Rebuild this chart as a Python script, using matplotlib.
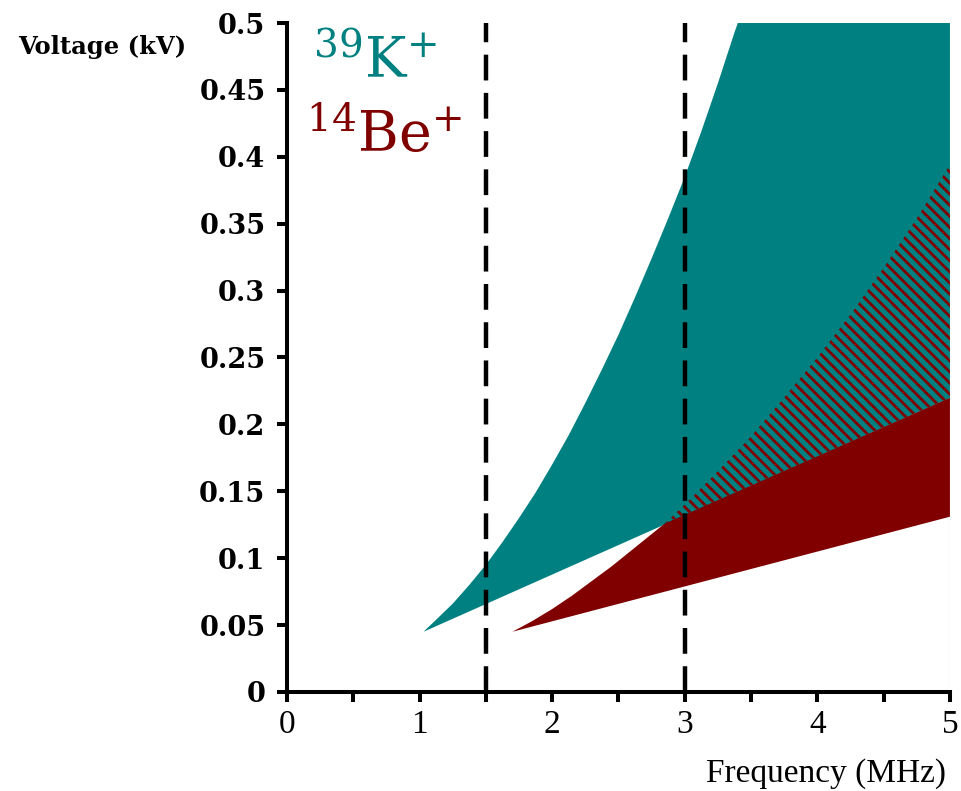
import numpy as np
import matplotlib
matplotlib.use("Agg")
import matplotlib.pyplot as plt

# stability regions (frequency in MHz, voltage in kV)
k_upper_freq = [1.03, 1.125, 1.25, 1.375, 1.5, 1.625, 1.75, 1.875, 2.0, 2.125, 2.25,
                2.375, 2.5, 2.625, 2.75, 2.875, 3.0, 3.125, 3.25, 3.375, 3.40]
k_upper_volt = [0.045, 0.054, 0.066, 0.080, 0.095, 0.112, 0.130, 0.149, 0.170, 0.192,
                0.216, 0.241, 0.267, 0.295, 0.324, 0.354, 0.385, 0.419, 0.455, 0.493, 0.500]
k_lower_freq = [1.03, 5.0]
k_lower_volt = [0.045, 0.220]

be_upper_freq = [1.7, 1.85, 2.0, 2.15, 2.3, 2.45, 2.6, 2.75, 2.85, 3.0, 3.25, 3.5,
                 3.75, 4.0, 4.25, 4.5, 4.75, 5.0]
be_upper_volt = [0.045, 0.053, 0.062, 0.072, 0.083, 0.094, 0.106, 0.118, 0.126, 0.140,
                 0.165, 0.191, 0.220, 0.250, 0.282, 0.317, 0.354, 0.394]
be_lower_freq = [1.7, 5.0]
be_lower_volt = [0.045, 0.131]
cross_idx = 8  # where the Be upper edge meets the K lower edge

trap_freqs = [1.5, 3.0]

xlim = (0, 5)
ylim = (0, 0.5)
x_ticks = [0, 1, 2, 3, 4, 5]
x_minor = [0.5, 1.5, 2.5, 3.5, 4.5]
y_ticks = [0, 0.05, 0.1, 0.15, 0.2, 0.25, 0.3, 0.35, 0.4, 0.45, 0.5]
y_labels = ["0", "0.05", "0.1", "0.15", "0.2", "0.25", "0.3", "0.35", "0.4", "0.45", "0.5"]

TEAL = "#008080"
MAROON = "#800000"

plt.rcParams["hatch.linewidth"] = 2.0
plt.rcParams["mathtext.fontset"] = "dejavuserif"

fig = plt.figure(figsize=(9.62, 7.91), dpi=100)
ax = fig.add_axes([0.2983, 0.1252, 0.6892, 0.8457])

# K+ region: upper curve, across the top, down the right edge, back along lower line
kx = k_upper_freq + [xlim[1]] + k_lower_freq[::-1]
ky = k_upper_volt + [ylim[1]] + k_lower_volt[::-1]
ax.fill(kx, ky, color=TEAL, lw=0, zorder=1)

# Be+ region below the K lower edge
rx = be_lower_freq + [k_lower_freq[-1]] + be_upper_freq[cross_idx::-1]
ry = be_lower_volt + [k_lower_volt[-1]] + be_upper_volt[cross_idx::-1]
ax.fill(rx, ry, color=MAROON, lw=0, zorder=2)

# overlap of both regions, hatched
hx = be_upper_freq[cross_idx:] + [k_lower_freq[-1]]
hy = be_upper_volt[cross_idx:] + [k_lower_volt[-1]]
ax.fill(hx, hy, facecolor=TEAL, edgecolor=MAROON, hatch="\\\\\\", lw=0, zorder=3)

for f in trap_freqs:
    ax.axvline(f, color="black", lw=3.2, ls=(0, (5.8, 2.8)), zorder=5)
ax.axvline(xlim[1], color="#e0d0d0", lw=0.8, zorder=4)

ax.set_xlim(*xlim)
ax.set_ylim(*ylim)

for s in ["top", "right"]:
    ax.spines[s].set_visible(False)
for s in ["left", "bottom"]:
    ax.spines[s].set_linewidth(2.9)
    ax.spines[s].set_zorder(6)

ax.set_xticks(x_ticks)
ax.set_xticks(x_minor, minor=True)
ax.set_xticklabels([str(t) for t in x_ticks], fontsize=24, family="Liberation Serif")
ax.set_yticks(y_ticks)
ax.set_yticklabels(y_labels, fontsize=19.5, family="DejaVu Serif", fontweight="bold")
ax.tick_params(axis="both", which="both", direction="out", length=7.5, width=2.9)
ax.tick_params(axis="x", pad=5)
ax.tick_params(axis="y", pad=8)

fig.text(0.019, 0.941, "Voltage (kV)", fontsize=17.5, family="DejaVu Serif",
         fontweight="bold", ha="left", va="center")
fig.text(0.983, 0.022, "Frequency (MHz)", fontsize=24, family="Liberation Serif",
         ha="right", va="center")

ax.text(0.04, 0.918, r"$^{39}$K$^{+}$", transform=ax.transAxes, fontsize=40,
        family="DejaVu Serif", color=TEAL, ha="left", va="baseline")
ax.text(0.028, 0.807, r"$^{14}$Be$^{+}$", transform=ax.transAxes, fontsize=40,
        family="DejaVu Serif", color=MAROON, ha="left", va="baseline")

fig.savefig("out.png", dpi=100)
